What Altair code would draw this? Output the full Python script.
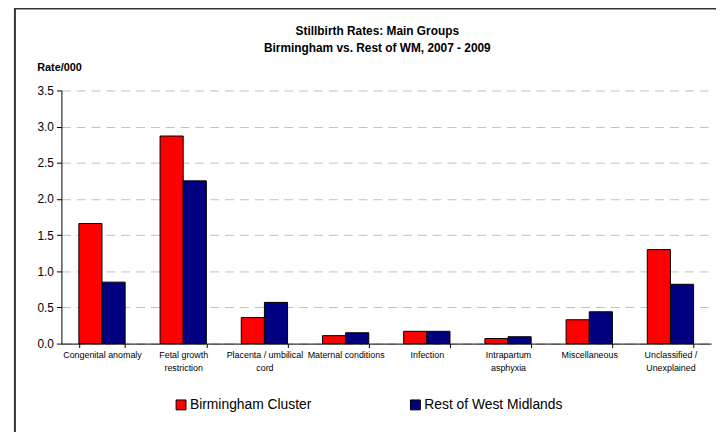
import altair as alt
import pandas as pd

categories = ["Congenital anomaly", "Fetal growth\nrestriction", "Placenta / umbilical\ncord",
              "Maternal conditions", "Infection", "Intrapartum\nasphyxia", "Miscellaneous",
              "Unclassified /\nUnexplained"]
series = ["Birmingham Cluster", "Rest of West Midlands"]
birmingham = [1.66, 2.87, 0.36, 0.11, 0.17, 0.07, 0.33, 1.30]
rest_wm = [0.85, 2.25, 0.57, 0.15, 0.17, 0.095, 0.44, 0.82]
y_ticks = [0, 0.5, 1.0, 1.5, 2.0, 2.5, 3.0, 3.5]
colors = ["#FF0000", "#000080"]

rows = []
for c, a, b in zip(categories, birmingham, rest_wm):
    rows.append({"cat": c, "series": series[0], "rate": a})
    rows.append({"cat": c, "series": series[1], "rate": b})
df = pd.DataFrame(rows)

FONT = "Liberation Sans"

bars = alt.Chart(df).mark_bar(stroke="black", strokeWidth=1).encode(
    x=alt.X("cat:N", sort=categories, title=None,
            scale=alt.Scale(paddingInner=0.43, paddingOuter=0.215),
            axis=alt.Axis(labelAngle=0, labelFontSize=9, labelFont=FONT, labelColor="black",
                          labelExpr="split(datum.label, '\\n')", labelLineHeight=13,
                          tickBand="extent", tickSize=4, tickColor="black",
                          domainColor="black", labelPadding=3, labelLimit=200)),
    xOffset=alt.XOffset("series:N", sort=series, scale=alt.Scale(paddingInner=0, paddingOuter=0)),
    y=alt.Y("rate:Q", scale=alt.Scale(domain=[0, 3.5], nice=False),
            axis=alt.Axis(values=y_ticks, format=".1f", title="Rate/000", titleAngle=0,
                          titleX=-25, titleY=-20, titleAlign="left", titleBaseline="alphabetic",
                          titleFont=FONT, titleFontSize=11, titleFontWeight="bold",
                          labelFont=FONT, labelFontSize=12, labelColor="black",
                          tickSize=5, tickColor="black", domainColor="black",
                          gridDash=[9, 6], gridColor="#c0c0c0", labelPadding=3)),
    color=alt.Color("series:N", sort=series,
                    scale=alt.Scale(domain=series, range=colors),
                    legend=alt.Legend(title=None, orient="none", legendX=114, legendY=311,
                                      direction="horizontal", columns=2, columnPadding=98,
                                      symbolType="square", symbolSize=100,
                                      symbolStrokeColor="black", symbolStrokeWidth=1,
                                      labelFont=FONT, labelFontSize=14, labelColor="black",
                                      labelOffset=2)),
)

frame = alt.Chart(alt.Data(values=[{}])).mark_rect(filled=False, stroke="#333333", strokeWidth=2).encode(
    x=alt.value(-47), x2=alt.value(900), y=alt.value(-83), y2=alt.value(600)
)

chart = alt.layer(bars, frame).properties(
    width=657, height=256,
    title=alt.TitleParams(["Stillbirth Rates: Main Groups", "Birmingham vs. Rest of WM, 2007 - 2009"],
                          font=FONT, fontSize=12, fontWeight="bold", anchor="middle",
                          dx=-9, lineHeight=17, offset=-48, color="black"),
    autosize=alt.AutoSizeParams(type="none"),
    padding={"left": 54, "top": 81, "right": 5, "bottom": 87},
    background="white",
).configure_view(stroke=None)

chart.save("out.html", embed_options={"renderer": "svg", "actions": False})
